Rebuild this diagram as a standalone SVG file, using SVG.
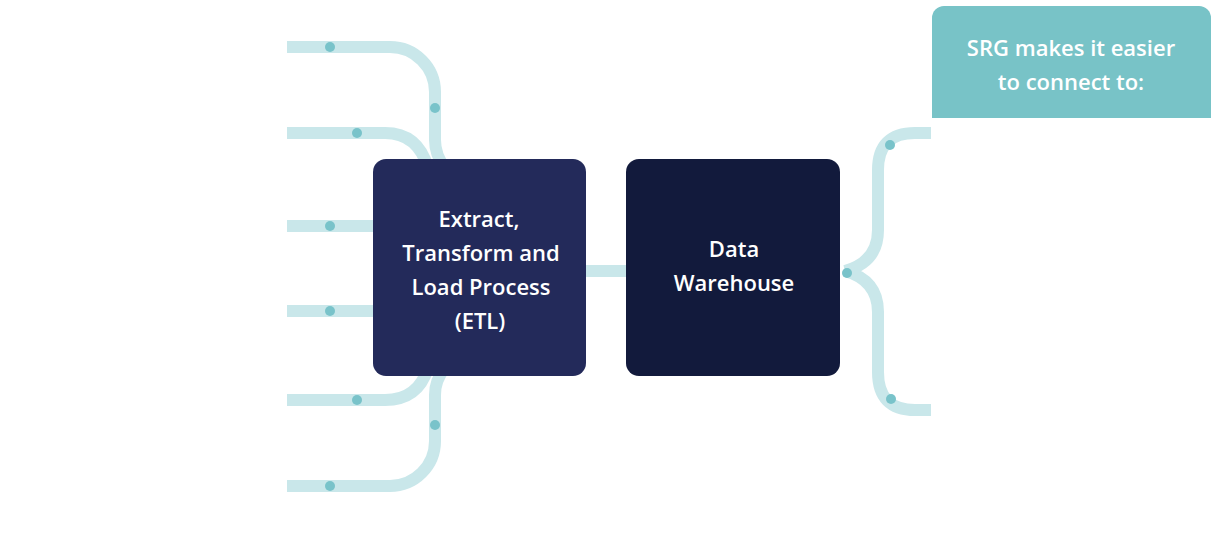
<svg xmlns="http://www.w3.org/2000/svg" width="1218" height="533" viewBox="0 0 1218 533">
<style>
.ln{fill:none;stroke:#c9e7ea;stroke-width:12}
.dot{fill:#79c3ca}
.t{font-family:"Open Sans",Lato,sans-serif;font-weight:600;fill:#ffffff;text-anchor:middle}
</style>
<rect width="1218" height="533" fill="#ffffff"/>
<g id="connectors">
<path class="ln" d="M287,47 H390 A45,45 0 0 1 435,92 V140 Q435,155 445,168"/>
<path class="ln" d="M287,133 H385 Q418,133 428,168"/>
<path class="ln" d="M287,226 H380"/>
<path class="ln" d="M287,311 H380"/>
<path class="ln" d="M287,400 H385 Q418,400 428,368"/>
<path class="ln" d="M287,486 H390 A45,45 0 0 0 435,441 V395 Q435,380 445,368"/>
<path class="ln" d="M580,271 H632"/>
<path class="ln" d="M845,271 Q878,262 878,230 V170 Q878,133 915,133 H931"/>
<path class="ln" d="M845,271 Q878,280 878,312 V372 Q878,410 915,410 H931"/>
<circle class="dot" cx="330" cy="47" r="5"/>
<circle class="dot" cx="435" cy="108" r="5"/>
<circle class="dot" cx="357" cy="133" r="5"/>
<circle class="dot" cx="330" cy="226" r="5"/>
<circle class="dot" cx="330" cy="311" r="5"/>
<circle class="dot" cx="357" cy="400" r="5"/>
<circle class="dot" cx="435" cy="425" r="5"/>
<circle class="dot" cx="330" cy="486" r="5"/>
<circle class="dot" cx="890" cy="145" r="5"/>
<circle class="dot" cx="891" cy="399" r="5"/>
</g>
<g id="etl">
<rect x="373" y="159" width="213" height="217" rx="13" fill="#232a5a"/>
<text class="t" font-size="22" x="479" y="227">Extract,</text>
<text class="t" font-size="22" x="481" y="261">Transform and</text>
<text class="t" font-size="22" x="481" y="295">Load Process</text>
<text class="t" font-size="22" x="480" y="329">(ETL)</text>
</g>
<g id="warehouse">
<rect x="626" y="159" width="214" height="217" rx="13" fill="#121a3c"/>
<text class="t" font-size="22" x="734" y="257">Data</text>
<text class="t" font-size="22" x="734" y="291">Warehouse</text>
</g>
<circle class="dot" cx="847" cy="273" r="5"/>
<g id="srg">
<path d="M932,18 A12,12 0 0 1 944,6 H1199 A12,12 0 0 1 1211,18 V118 H932 Z" fill="#78c3c7"/>
<text class="t" font-size="22" x="1071" y="56">SRG makes it easier</text>
<text class="t" font-size="22" x="1071" y="90">to connect to:</text>
</g>
</svg>
